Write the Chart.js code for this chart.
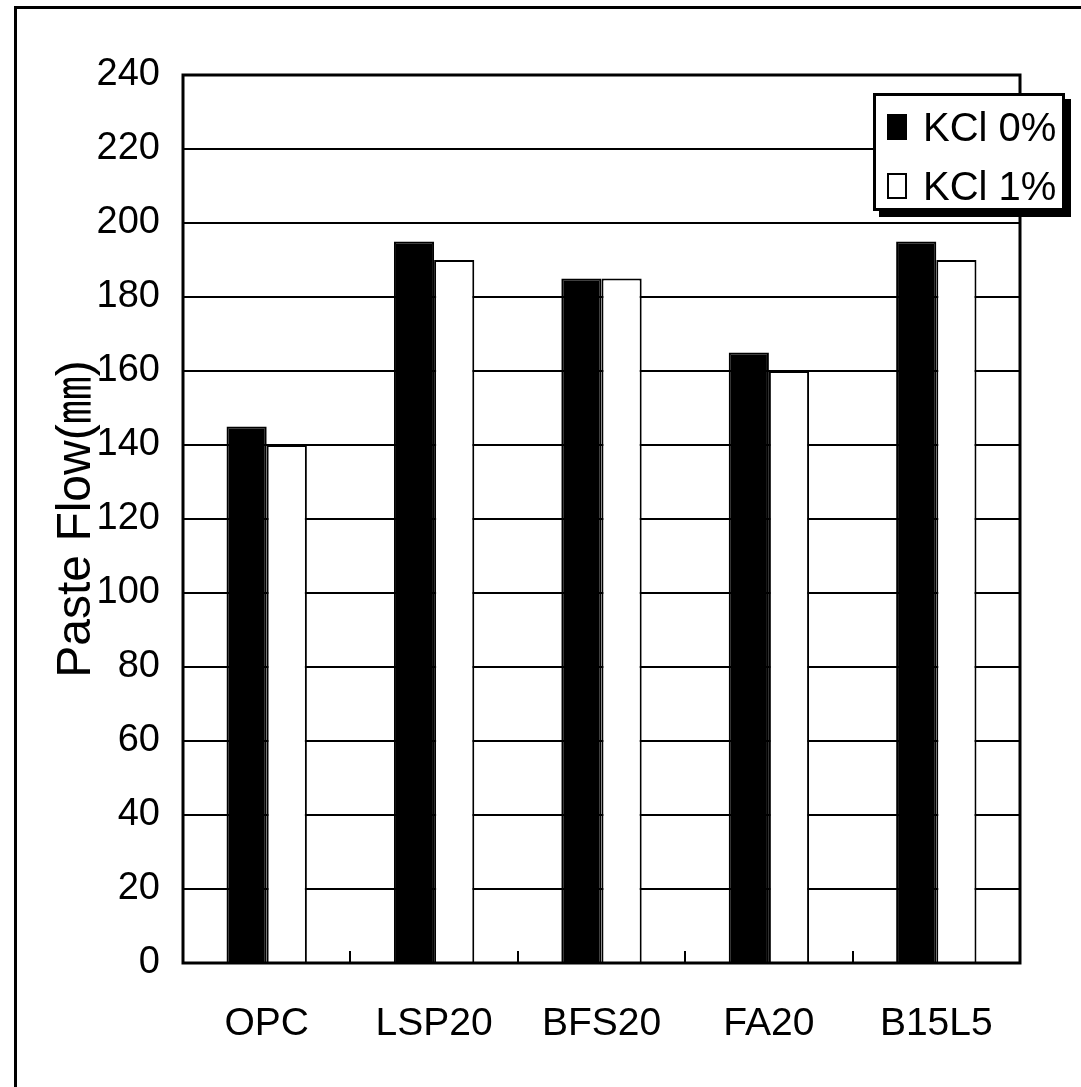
<!DOCTYPE html>
<html>
<head>
<meta charset="utf-8">
<script src="https://cdn.jsdelivr.net/npm/chart.js@4.4.1/dist/chart.umd.min.js"></script>
<style>
  html, body { margin: 0; padding: 0; background: #fff; }
  #wrap { position: relative; width: 1081px; height: 1087px; overflow: hidden; }
  #frame {
    position: absolute; left: 14px; top: 6px; right: -10px; bottom: -10px;
    border-left: 3px solid #000; border-top: 3px solid #000;
  }
  #legend {
    position: absolute; left: 873px; top: 93px; width: 186px; height: 112px;
    background: #fff; border: 3px solid #000; box-shadow: 6px 6px 0 #000;
    font-family: "Liberation Sans", Arial, sans-serif;
    font-size: 40px; line-height: 46px; color: #000; white-space: nowrap;
  }
  .item { position: absolute; left: 11px; display: flex; align-items: center; }
  .box { width: 20px; height: 26px; border: 2px solid #000; box-sizing: border-box; margin-right: 16px; }
</style>
</head>
<body>
<div id="wrap">
  <div id="frame"></div>
  <canvas id="chart" width="1081" height="1087"></canvas>
  <div id="legend"></div>
</div>
<script>
// DATA
const categories = ["OPC", "LSP20", "BFS20", "FA20", "B15L5"];
const seriesNames = ["KCl 0%", "KCl 1%"];
const kcl0 = [145, 195, 185, 165, 195];
const kcl1 = [140, 190, 185, 160, 190];
const yTicks = [0, 20, 40, 60, 80, 100, 120, 140, 160, 180, 200, 220, 240];
const yTitle = "Paste Flow(㎜)";

const fills = ["#000000", "#ffffff"];

// box around plot area
const frameBox = {
  id: "frameBox",
  afterDraw(chart) {
    const { ctx, chartArea: a } = chart;
    ctx.save();
    ctx.strokeStyle = "#000";
    ctx.lineWidth = 3;
    ctx.strokeRect(a.left, a.top, a.right - a.left, a.bottom - a.top);
    ctx.restore();
  }
};

const ctx = document.getElementById("chart").getContext("2d");

new Chart(ctx, {
  type: "bar",
  data: {
    labels: categories,
    datasets: [
      { label: seriesNames[0], data: kcl0, backgroundColor: fills[0], borderColor: "#000", borderWidth: 2 },
      { label: seriesNames[1], data: kcl1, backgroundColor: fills[1], borderColor: "#000", borderWidth: 2 }
    ]
  },
  options: {
    responsive: false,
    animation: false,
    devicePixelRatio: 1,
    categoryPercentage: 0.48,
    barPercentage: 1.0,
    layout: { padding: { top: 75, right: 61, left: 0, bottom: 0 } },
    plugins: {
      legend: { display: false },
      tooltip: { enabled: false }
    },
    scales: {
      x: {
        grid: {
          display: true,
          drawOnChartArea: false,
          offset: true,
          tickLength: -12,
          color: "#000",
          lineWidth: 2
        },
        border: { display: false },
        ticks: {
          color: "#000",
          padding: 50,
          font: { family: "'Liberation Sans', Arial", size: 39 }
        },
        afterFit(scale) { scale.height = 124; }
      },
      y: {
        min: 0,
        max: 240,
        afterBuildTicks(scale) { scale.ticks = yTicks.map(v => ({ value: v })); },
        grid: { color: "#000", lineWidth: 2, drawTicks: false },
        border: { display: false },
        ticks: {
          color: "#000",
          padding: 23,
          font: { family: "'Liberation Sans', Arial", size: 38 }
        },
        title: {
          display: true,
          text: yTitle,
          color: "#000",
          padding: { top: 48, bottom: 0 },
          font: { family: "'Liberation Sans', 'Noto Sans CJK KR', Arial", size: 48 }
        },
        afterFit(scale) { scale.width = 183; }
      }
    }
  },
  plugins: [frameBox]
});

// LEGEND
const legend = document.getElementById("legend");
seriesNames.forEach((name, i) => {
  const item = document.createElement("div");
  item.className = "item";
  item.style.top = (i === 0 ? 8 : 67) + "px";
  const box = document.createElement("span");
  box.className = "box";
  box.style.background = fills[i];
  const txt = document.createElement("span");
  txt.textContent = name;
  item.appendChild(box);
  item.appendChild(txt);
  legend.appendChild(item);
});
</script>
</body>
</html>
